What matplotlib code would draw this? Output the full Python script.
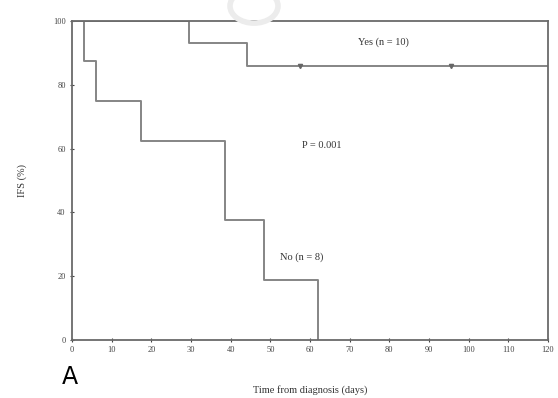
import numpy as np
import matplotlib
matplotlib.use("Agg")
import matplotlib.pyplot as plt
from matplotlib.patches import Circle

# Kaplan-Meier steps
no_times = [0, 3, 6, 17.5, 38.5, 48.5, 62]
no_surv = [100, 87.5, 75, 62.5, 37.5, 18.75, 0]
yes_times = [0, 29.5, 44, 120]
yes_surv = [100, 93, 86, 86]
yes_censor_times = [57.5, 95.5]
yes_censor_surv = [86, 86]

x_ticks = list(range(0, 121, 10))
y_ticks = [0, 20, 40, 60, 80, 100]

plt.rcParams['font.family'] = ['Liberation Serif', 'DejaVu Serif']

fig = plt.figure(figsize=(5.58, 3.98), dpi=100)
ax = fig.add_axes([72/558, 1-340/398, 476/558, 319/398])

line_c = '#858585'
ax.plot(no_times, no_surv, drawstyle='steps-post', color=line_c, lw=1.4)
ax.plot(yes_times, yes_surv, drawstyle='steps-post', color=line_c, lw=1.4)
ax.plot(yes_censor_times, yes_censor_surv, ls='none', marker='v', ms=3,
        color='#666666')

ax.set_xlim(0, 120)
ax.set_ylim(0, 100)
ax.set_xticks(x_ticks)
ax.set_yticks(y_ticks)
ax.set_xticklabels([str(v) for v in x_ticks])
ax.set_yticklabels([str(v) for v in y_ticks])
ax.tick_params(direction='inout', length=3, width=0.8, labelsize=6,
               colors='#444444', pad=3)
for s in ax.spines.values():
    s.set_color('#6a6a6a')
    s.set_linewidth(1.3)

ax.set_xlabel('Time from diagnosis (days)', fontsize=7.5, color='#333333',
              labelpad=22)
ax.set_ylabel('IFS (%)', fontsize=7.5, color='#333333', labelpad=19)

ax.text(78.5, 93.5, 'Yes (n = 10)', fontsize=7.5, color='#333333',
        ha='center', va='center')
ax.text(63, 61, 'P = 0.001', fontsize=7.5, color='#333333',
        ha='center', va='center')
ax.text(58, 26, 'No (n = 8)', fontsize=7.5, color='#333333',
        ha='center', va='center')

fig.text(70/558, 1-377/398, 'A', fontsize=17, family='DejaVu Sans',
         ha='center', va='center', color='black')

# faint watermark ring at top
ring = Circle((254/558, 1-6/398), 24/558, transform=fig.transFigure,
              fill=False, lw=4, color='#ececec', zorder=0)
fig.patches.append(ring)

fig.savefig('out.png', dpi=100)
